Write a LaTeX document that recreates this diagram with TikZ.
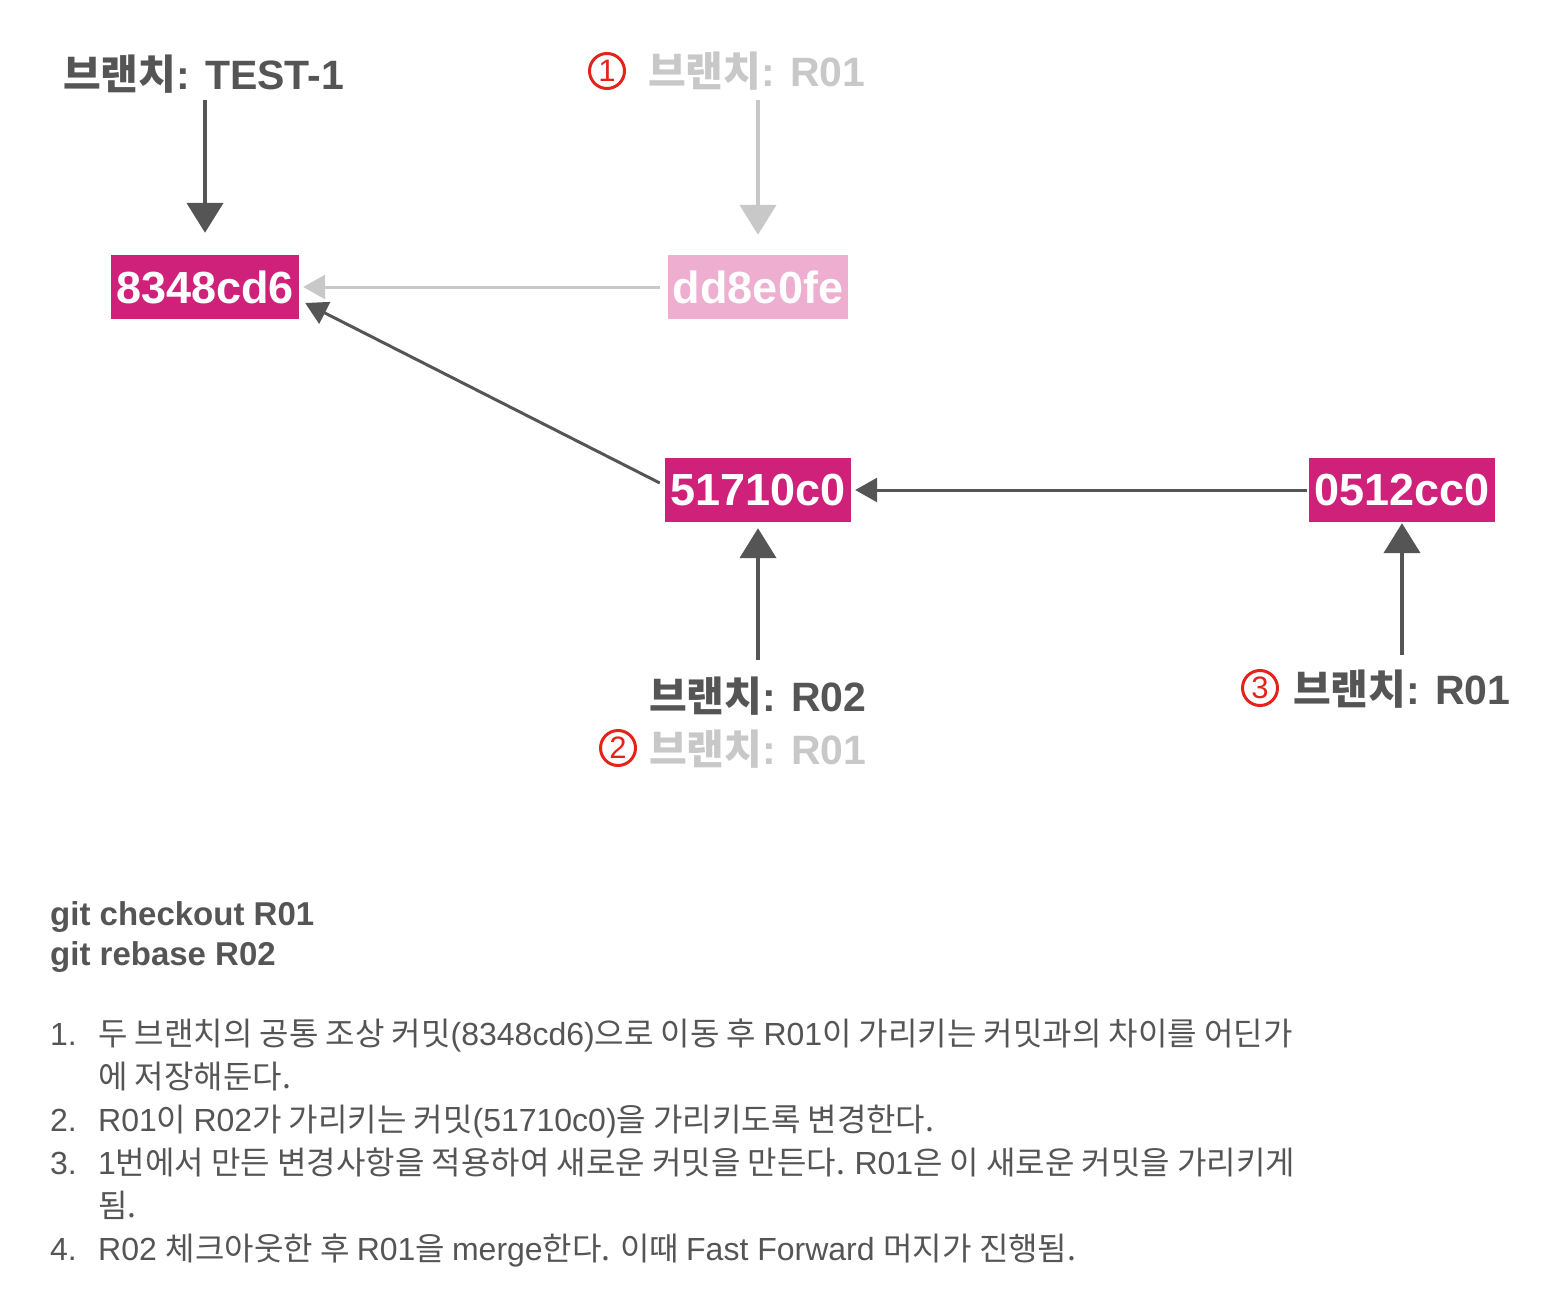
\documentclass[tikz,border=0pt]{standalone}
\usepackage{fontspec}
\setmainfont{Liberation Sans}
\newfontfamily\kr{Noto Sans CJK KR}
\usetikzlibrary{arrows.meta}
\definecolor{mag}{HTML}{D0217A}
\definecolor{pinkl}{HTML}{EEAED0}
\definecolor{dk}{HTML}{555555}
\definecolor{lg}{HTML}{C8C8C8}
\definecolor{rd}{HTML}{E5231B}
\begin{document}
\begin{tikzpicture}[x=1pt,y=-1pt,
  commit/.style={fill=mag, text=white, font=\fontsize{45}{45}\selectfont\bfseries,
    minimum height=64pt, inner sep=0pt, anchor=center},
  lbl/.style={font=\fontsize{41}{41}\selectfont\bfseries, text=dk, inner sep=0pt, anchor=base west},
  glbl/.style={lbl, text=lg},
  circ/.style={circle, draw=rd, line width=3pt, minimum size=35pt, inner sep=0pt,
    text=rd, font=\fontsize{31}{31}\selectfont, anchor=center},
  cmd/.style={font=\fontsize{33}{33}\selectfont\bfseries, text=dk, inner sep=0pt, anchor=base west},
  item/.style={font=\fontsize{32}{32}\selectfont, text=dk, inner sep=0pt, anchor=base west},
  varr/.style={draw=dk, line width=4.5pt, -{Triangle[width=36pt,length=30pt]}},
  harr/.style={draw=dk, line width=3pt, -{Triangle[width=24pt,length=22pt]}}
]
\useasboundingbox (0,0) rectangle (1542,1300);

% commits
\node[commit, minimum width=188pt] (b1) at (205,287) {8348cd6};
\node[commit, minimum width=180pt, fill=pinkl] (b2) at (758,287) {dd8e0fe};
\node[commit, minimum width=186pt] (b3) at (758,490) {51710c0};
\node[commit, minimum width=186pt] (b4) at (1402,490) {0512cc0};

% labels
\node[lbl] (lT) at (63,90) {{\kr 브랜치}: TEST-1};
\node[circ] (c1) at (607,71) {1};
\node[glbl] (lR1) at (648,87) {{\kr 브랜치}: R01};
\node[lbl] (lR2) at (649,711) {{\kr 브랜치}: R02};
\node[circ] (c2) at (618,748) {2};
\node[glbl] (lR1b) at (649,764) {{\kr 브랜치}: R01};
\node[circ] (c3) at (1260,688) {3};
\node[lbl] (lR1c) at (1293,704) {{\kr 브랜치}: R01};

% arrow ends
\coordinate (sT) at (205,100);
\coordinate (sR1) at (758,100);
\coordinate (sR2) at (758,660);
\coordinate (sR3) at (1402,655);

\draw[varr] (sT) -- ([yshift=22pt]b1.north);
\draw[varr, draw=lg] (sR1) -- ([yshift=20pt]b2.north);
\draw[harr, draw=lg] ([xshift=-8pt]b2.west) -- ([xshift=4pt]b1.east);
\draw[harr] ([xshift=-5pt,yshift=7pt]b3.west) -- ([xshift=6pt,yshift=-16pt]b1.east);
\draw[harr] ([xshift=-2pt]b4.west) -- ([xshift=4pt]b3.east);
\draw[varr] (sR2) -- ([yshift=-6pt]b3.south);
\draw[varr] (sR3) -- ([yshift=-1pt]b4.south);

% commands
\node[cmd] (g1) at (50,925) {git checkout R01};
\node[cmd] (g2) at (50,965) {git rebase R02};

% list
\node[item] (n1) at (50,1045) {1.};
\node[item] (t1) at (98,1045) {{\kr 두 브랜치의 공통 조상 커밋}(8348cd6){\kr 으로 이동 후 }R01{\kr 이 가리키는 커밋과의 차이를 어딘가}};
\node[item] (t1b) at (98,1088) {{\kr 에 저장해둔다.}};
\node[item] (n2) at (50,1131) {2.};
\node[item] (t2) at (98,1131) {R01{\kr 이 }R02{\kr 가 가리키는 커밋}(51710c0){\kr 을 가리키도록 변경한다.}};
\node[item] (n3) at (50,1174) {3.};
\node[item] (t3) at (98,1174) {1{\kr 번에서 만든 변경사항을 적용하여 새로운 커밋을 만든다. }R01{\kr 은 이 새로운 커밋을 가리키게}};
\node[item] (t3b) at (98,1217) {{\kr 됨.}};
\node[item] (n4) at (50,1260) {4.};
\node[item] (t4) at (98,1260) {R02 {\kr 체크아웃한 후 }R01{\kr 을 }merge{\kr 한다. 이때 }Fast Forward {\kr 머지가 진행됨.}};
\end{tikzpicture}
\end{document}
